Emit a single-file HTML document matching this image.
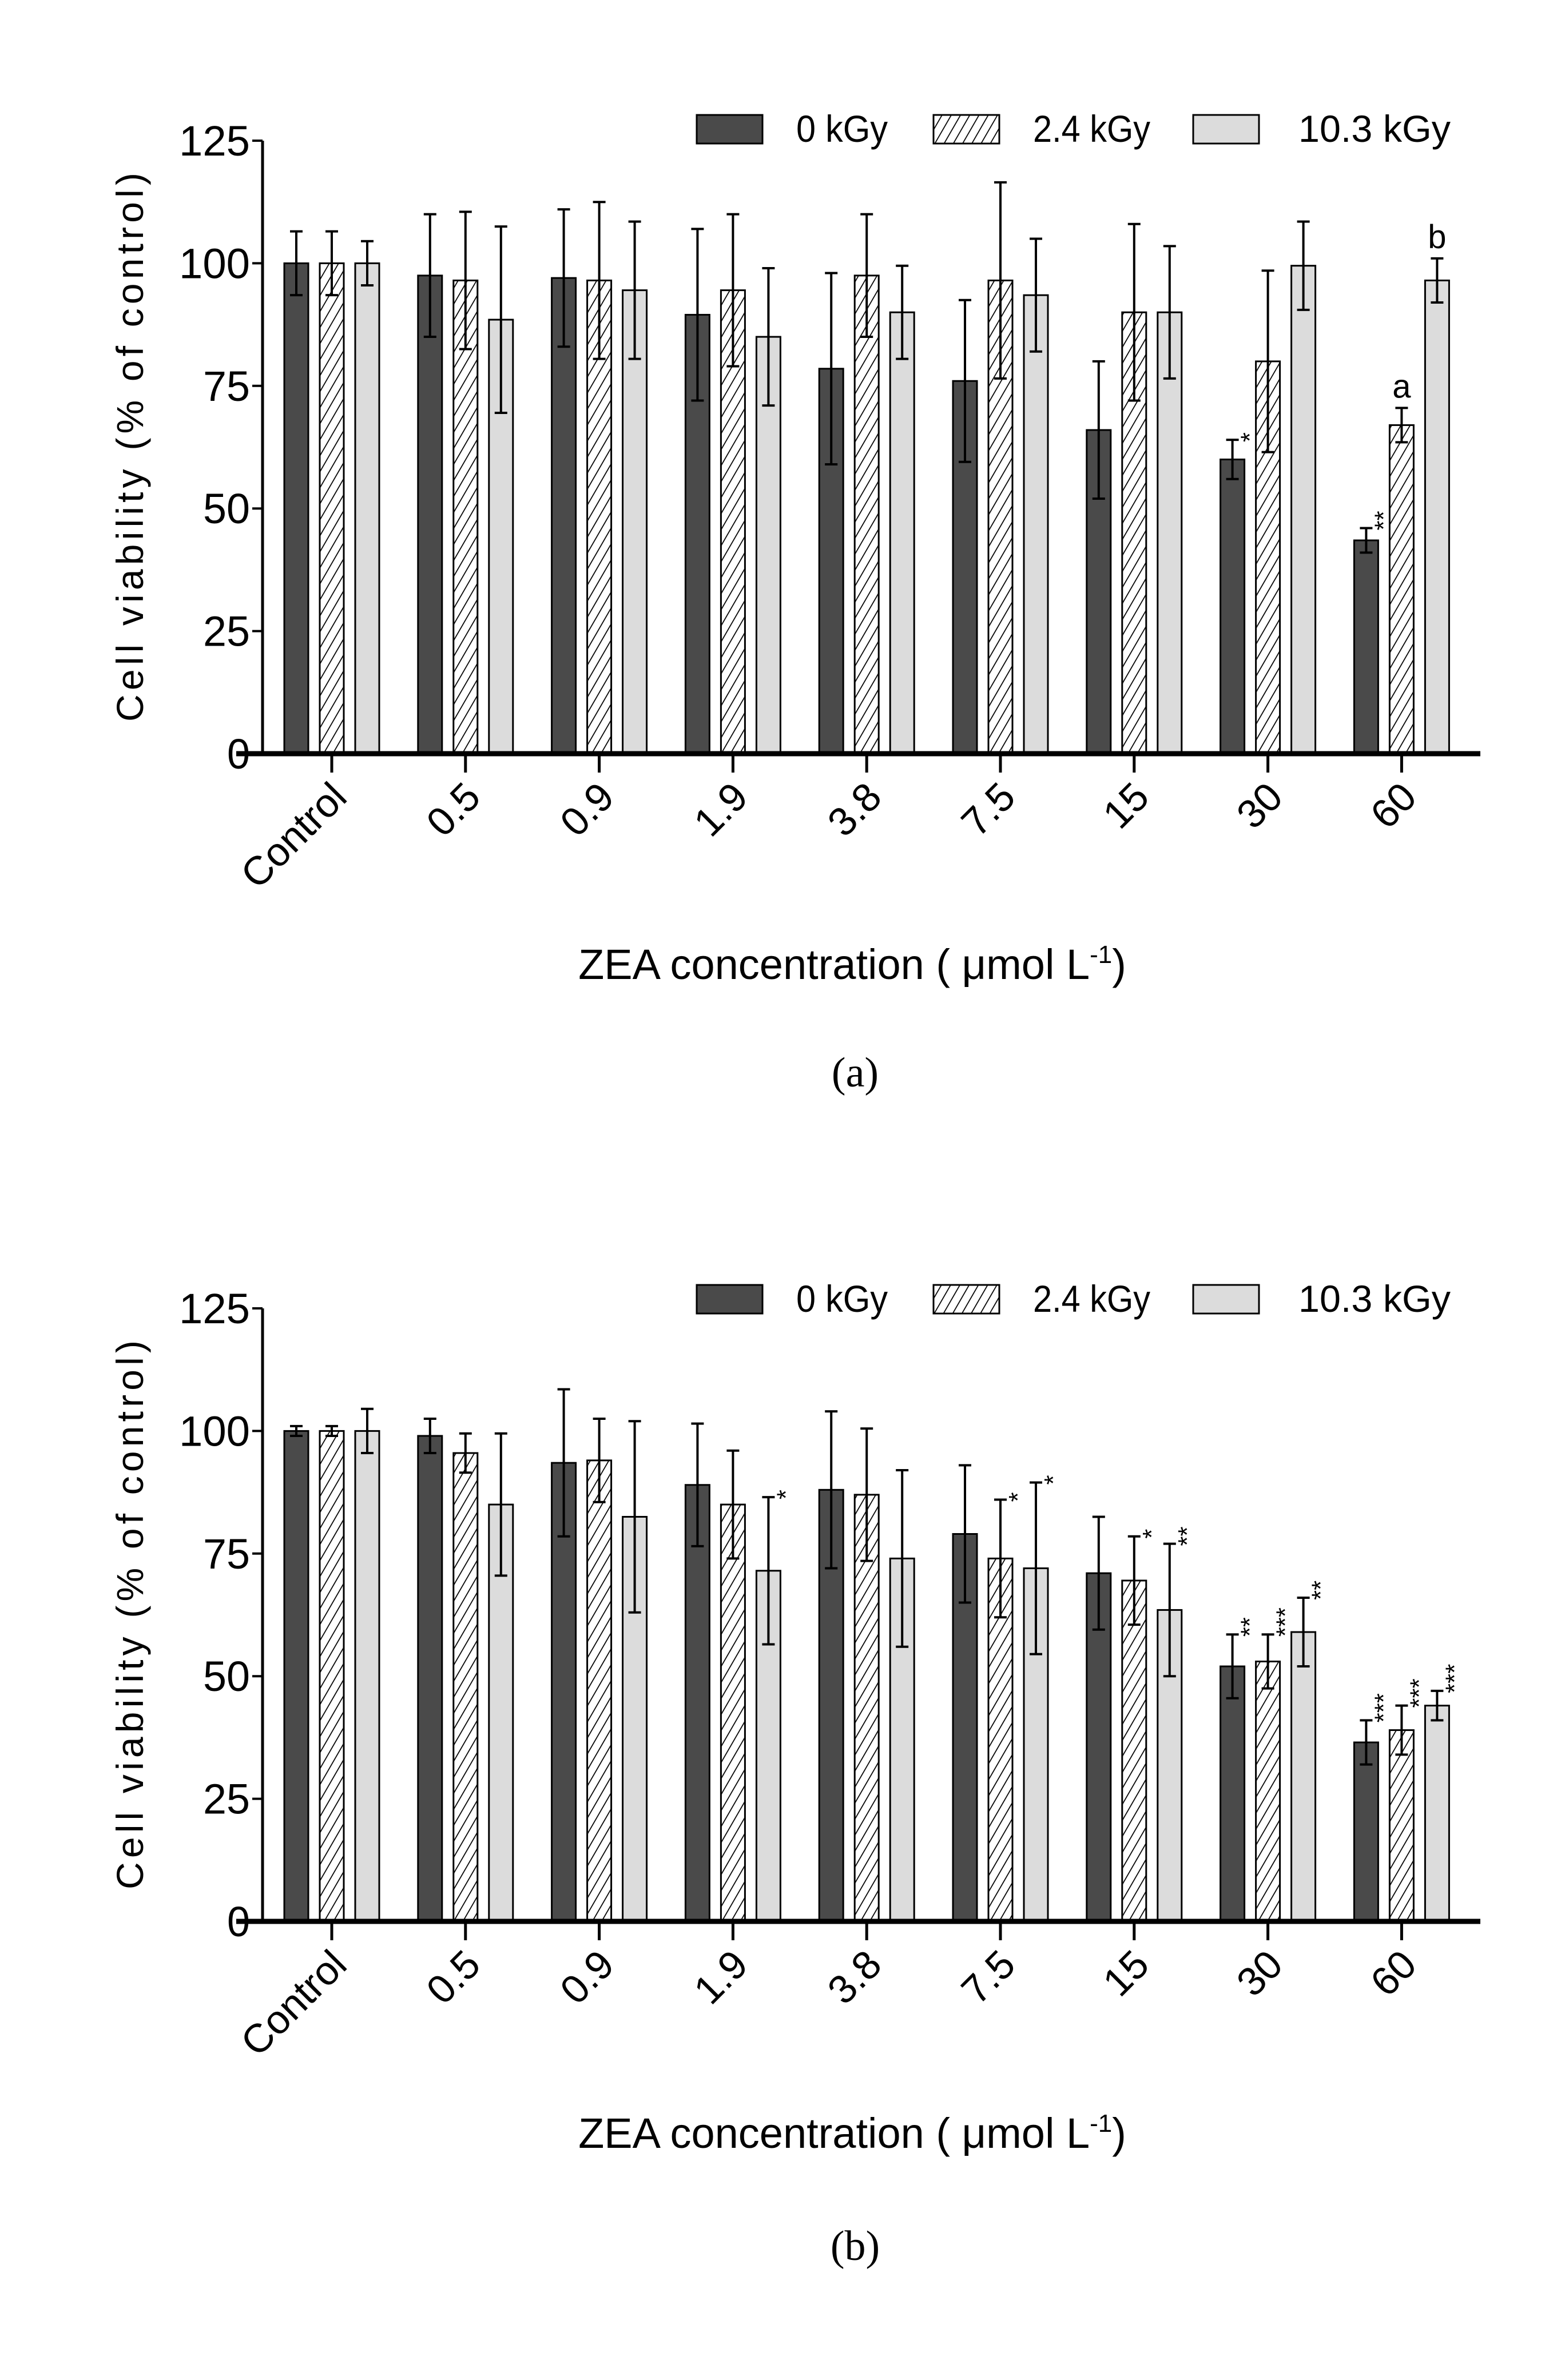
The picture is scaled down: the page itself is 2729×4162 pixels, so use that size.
<!DOCTYPE html>
<html><head><meta charset="utf-8"><style>
html,body{margin:0;padding:0;background:#fff;}
svg{display:block;}
text{font-family:"Liberation Sans",sans-serif;fill:#000;}
</style></head><body>
<svg id="fig" width="2729" height="4162" viewBox="0 0 2729 4162" xmlns="http://www.w3.org/2000/svg">
<defs>
<pattern id="hatch" patternUnits="userSpaceOnUse" width="14" height="14" patternTransform="rotate(30)">
<rect width="14" height="14" fill="#fff"/><line x1="0" y1="0" x2="0" y2="14" stroke="#000" stroke-width="3.5"/>
</pattern>
</defs>
<g id="chartA"></g>
<g id="chartB"></g>
</svg>
<script>
const categories = ["Control","0.5","0.9","1.9","3.8","7.5","15","30","60"];
const yTicks = [0,25,50,75,100,125];
const seriesNames = ["0 kGy","2.4 kGy","10.3 kGy"];
const aMean0 = [100,97.5,97,89.5,78.5,76,66,60,43.5];
const aErr0  = [6.5,12.5,14,17.5,19.5,16.5,14,4,2.5];
const aMean1 = [100,96.5,96.5,94.5,97.5,96.5,90,80,67];
const aErr1  = [6.5,14,16,15.5,12.5,20,18,18.5,3.5];
const aMean2 = [100,88.5,94.5,85,90,93.5,90,99.5,96.5];
const aErr2  = [4.5,19,14,14,9.5,11.5,13.5,9,4.5];
const bMean0 = [100,99,93.5,89,88,79,71,52,36.5];
const bErr0  = [1,3.5,15,12.5,16,14,11.5,6.5,4.5];
const bMean1 = [100,95.5,94,85,87,74,69.5,53,39];
const bErr1  = [1,4,8.5,11,13.5,12,9,5.5,5];
const bMean2 = [100,85,82.5,71.5,74,72,63.5,59,44];
const bErr2  = [4.5,14.5,19.5,15,18,17.5,13.5,7,3];
const aNotes = [{s:0,c:7,t:"*",rot:true},{s:0,c:8,t:"**",rot:true},{s:1,c:8,t:"a",rot:false},{s:2,c:8,t:"b",rot:false}];
const bNotes = [{s:2,c:3,t:"*"},{s:1,c:5,t:"*"},{s:2,c:5,t:"*"},{s:1,c:6,t:"*"},{s:2,c:6,t:"**"},
 {s:0,c:7,t:"**"},{s:1,c:7,t:"***"},{s:2,c:7,t:"**"},{s:0,c:8,t:"***"},{s:1,c:8,t:"***"},{s:2,c:8,t:"***"}];

const NS="http://www.w3.org/2000/svg";
function mk(parent,tag,attrs,txt){const e=document.createElementNS(NS,tag);for(const k in attrs)e.setAttribute(k,attrs[k]);if(txt!==undefined)e.textContent=txt;parent.appendChild(e);return e;}
const fills=["#4a4a4a","url(#hatch)","#dcdcdc"];

function draw(g,y0,y125,means,errs,notes,legY,titleY,capY,cap){
  const xAxis0=453,xAxis1=2588,tick0=580,step=233.8,off=62,bw=42;
  const yv=v=>y0-(v/125)*(y0-y125);
  const xc=i=>tick0+i*step;
  for(let s=0;s<3;s++){
    for(let i=0;i<categories.length;i++){
      const x=xc(i)+(s-1)*off-bw/2, m=means[s][i], e=errs[s][i];
      const r=mk(g,"rect",{x:x,y:yv(m),width:bw,height:y0-yv(m),fill:fills[s],stroke:"#000","stroke-width":3});
      
      
      const cx=x+bw/2;
      const eb=mk(g,"path",{d:`M${cx},${yv(m-e)}V${yv(m+e)}M${cx-11},${yv(m+e)}H${cx+11}M${cx-11},${yv(m-e)}H${cx+11}`,stroke:"#000","stroke-width":4,fill:"none"});
      
      
    }
  }
  notes.forEach(n=>{
    const cx=xc(n.c)+(n.s-1)*off, top=yv(means[n.s][n.c]+errs[n.s][n.c]);
    let t;
    if(n.rot===false){
      t=mk(g,"text",{x:cx,y:top-18,"font-size":58,"text-anchor":"middle"},n.t);
    } else {
      const tx=cx+bw/2+10, ty=top+4;
      t=mk(g,"text",{x:tx,y:ty,"font-size":44,"text-anchor":"start",transform:`rotate(-90 ${tx} ${ty}) translate(0 14)`},n.t);
    }
    
    
  });
  const ya=mk(g,"line",{x1:xAxis0+6,y1:y125,x2:xAxis0+6,y2:y0,stroke:"#000","stroke-width":5});
  
  const xa=mk(g,"line",{x1:xAxis0-40,y1:y0,x2:xAxis1,y2:y0,stroke:"#000","stroke-width":9});
  
  yTicks.forEach(v=>{
    mk(g,"line",{x1:xAxis0-12,y1:yv(v),x2:xAxis0+6,y2:yv(v),stroke:"#000","stroke-width":4});
    const t=mk(g,"text",{x:xAxis0-16,y:yv(v)+26,"font-size":74,"text-anchor":"end",textLength:v>=100?124:(v>0?82:40),lengthAdjust:"spacingAndGlyphs"},String(v));
    
  });
  categories.forEach((c,i)=>{
    mk(g,"line",{x1:xc(i),y1:y0,x2:xc(i),y2:y0+33,stroke:"#000","stroke-width":5});
    const tx=xc(i)+30, ty=y0+80;
    const t=mk(g,"text",{x:tx,y:ty,"font-size":70,"text-anchor":"end",transform:`rotate(-45 ${tx} ${ty})`},c);
    
  });
  const yt=mk(g,"text",{x:0,y:0,"font-size":66,"text-anchor":"middle",transform:`translate(250 ${(y0+y125)/2}) rotate(-90)`,textLength:960,lengthAdjust:"spacing"},"Cell viability (% of control)");
  
  const xt=mk(g,"text",{x:1490,y:titleY,"font-size":74,"text-anchor":"middle"});
  
  mk(xt,"tspan",{},"ZEA concentration ( μmol L");
  mk(xt,"tspan",{dy:-28,"font-size":44},"-1");
  mk(xt,"tspan",{dy:28},")");
  const cp=mk(g,"text",{x:1495,y:capY,"font-size":74,"text-anchor":"middle",style:"font-family:'Liberation Serif',serif"},cap);
  
  const lx=[1218,1632,2086], tx=[1392,1806,2270], tw=[160,205,266];
  for(let s=0;s<3;s++){
    const b=mk(g,"rect",{x:lx[s],y:legY-25,width:115,height:50,fill:fills[s],stroke:"#000","stroke-width":3});
    
    const t=mk(g,"text",{x:tx[s],y:legY+22,"font-size":66,textLength:tw[s],lengthAdjust:"spacingAndGlyphs"},seriesNames[s]);
    
  }
}
draw(document.getElementById('chartA'),1318,246,[aMean0,aMean1,aMean2],[aErr0,aErr1,aErr2],aNotes,226,1712,1900,"(a)");
draw(document.getElementById('chartB'),3360,2288,[bMean0,bMean1,bMean2],[bErr0,bErr1,bErr2],bNotes,2272,3756,3952,"(b)");
</script>
</body></html>
